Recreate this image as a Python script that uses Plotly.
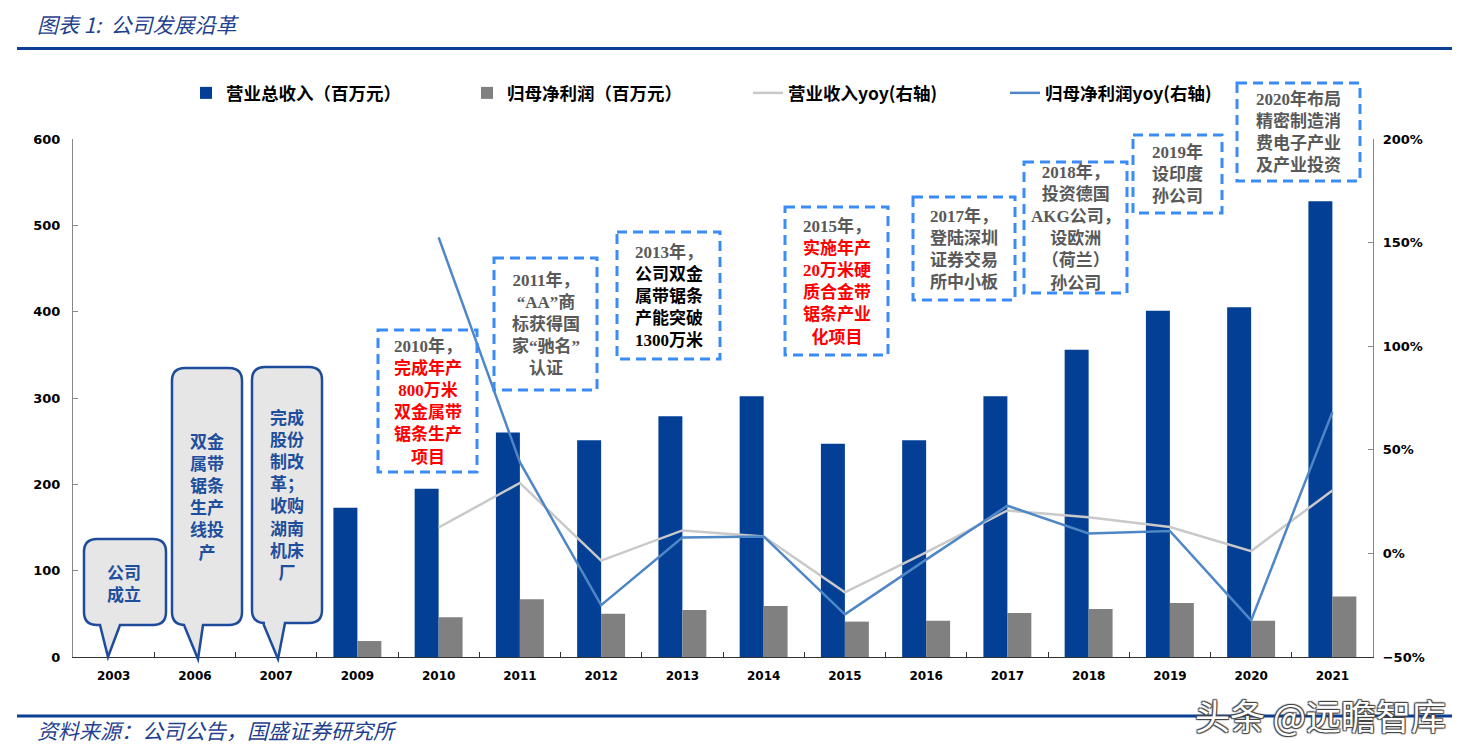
import plotly.graph_objects as go

# ---------------- data ----------------
years = ["2003", "2006", "2007", "2009", "2010", "2011", "2012", "2013",
         "2014", "2015", "2016", "2017", "2018", "2019", "2020", "2021"]
revenue = [None, None, None, 173, 195, 260, 251, 279, 302, 247, 251, 302, 356, 401, 405, 528]
net_profit = [None, None, None, 18.5, 46, 67, 50, 54.5, 59, 41, 42, 51, 55.6, 62.6, 42, 70]
revenue_yoy = [None, None, None, None, 0.125, 0.34, -0.035, 0.111, 0.082, -0.188, 0.005,
               0.207, 0.175, 0.127, 0.011, 0.304]
net_profit_yoy = [None, None, None, None, 1.525, 0.44, -0.25, 0.077, 0.082, -0.294, -0.03,
                  0.23, 0.096, 0.108, -0.323, 0.682]

series_names = ["营业总收入（百万元）", "归母净利润（百万元）", "营业收入yoy(右轴)", "归母净利润yoy(右轴)"]
left_ticks = [0, 100, 200, 300, 400, 500, 600]
right_ticks = [-0.5, 0, 0.5, 1.0, 1.5, 2.0]

# ---------------- layout helpers ----------------
# the page body has an 8px margin, so page pixel = figure pixel + 8
OFF = 8
W, H = 1476 - 2 * OFF, 752 - 2 * OFF
L, R, T, B = 73, 1373, 139, 657   # plot area in page pixels


def px(x):
    return (x - L) / (R - L)


def py(y):
    return (B - y) / (B - T)


fig = go.Figure()
fig.add_trace(go.Bar(x=years, y=revenue, name=series_names[0], marker_color="#023F95",
                     marker_line_width=0))
fig.add_trace(go.Bar(x=years, y=net_profit, name=series_names[1], marker_color="#808080",
                     marker_line_width=0))
fig.add_trace(go.Scatter(x=years, y=revenue_yoy, name=series_names[2], mode="lines",
                         line=dict(color="#C9C9C9", width=2.5), yaxis="y2"))
fig.add_trace(go.Scatter(x=years, y=net_profit_yoy, name=series_names[3], mode="lines",
                         line=dict(color="#4F86C6", width=2.5), yaxis="y2", legend="legend2"))

shapes = []
annotations = []

# title rules
for yy in (48.5, 716):
    shapes.append(dict(type="line", xref="paper", yref="paper", x0=px(17), x1=px(1452),
                       y0=py(yy), y1=py(yy), line=dict(color="#0B3F94", width=3)))

annotations.append(dict(xref="paper", yref="paper", x=px(35), y=py(24), xanchor="left",
                        yanchor="middle", showarrow=False,
                        text="<i>图表 1:  公司发展沿革</i>",
                        font=dict(family="Noto Sans CJK SC", size=21, color="#1F3F8F")))
annotations.append(dict(xref="paper", yref="paper", x=px(35), y=py(730), xanchor="left",
                        yanchor="middle", showarrow=False,
                        text="<i>资料来源：公司公告，国盛证券研究所</i>",
                        font=dict(family="Noto Sans CJK SC", size=21, color="#1F3F8F")))


# callout bubbles
def callout_path(x0, y0, x1, y1, r, tb0, tb1, ax, ay):
    pts = []

    def P(cmd, *xy):
        s = cmd
        for i in range(0, len(xy), 2):
            s += " %.5f,%.5f" % (px(xy[i]), py(xy[i + 1]))
        pts.append(s)
    P("M", x0 + r, y0)
    P("L", x1 - r, y0)
    P("Q", x1, y0, x1, y0 + r)
    P("L", x1, y1 - r)
    P("Q", x1, y1, x1 - r, y1)
    P("L", tb1, y1)
    P("L", ax, ay)
    P("L", tb0, y1)
    P("L", x0 + r, y1)
    P("Q", x0, y1, x0, y1 - r)
    P("L", x0, y0 + r)
    P("Q", x0, y0, x0 + r, y0)
    return " ".join(pts) + " Z"


callouts = [
    ((84, 539, 166, 625, 13, 100, 120, 108, 657), (124, 582), "公司<br>成立"),
    ((172, 368, 242, 625, 13, 184, 203, 198, 659), (207, 496), "双金<br>属带<br>锯条<br>生产<br>线投<br>产"),
    ((252, 367, 322, 623, 13, 263, 285, 278, 659), (287, 494), "完成<br>股份<br>制改<br>革；<br>收购<br>湖南<br>机床<br>厂"),
]
for geo, (tx, ty), txt in callouts:
    shapes.append(dict(type="path", xref="paper", yref="paper", path=callout_path(*geo),
                       fillcolor="#E6E6E6", line=dict(color="#1E4C9A", width=2.5), layer="above"))
    annotations.append(dict(xref="paper", yref="paper", x=px(tx), y=py(ty), showarrow=False,
                            xanchor="center", yanchor="middle", align="center",
                            text="<b>" + txt + "</b>",
                            font=dict(family="Noto Sans CJK SC", size=17, color="#1F4E9C")))

# dashed boxes
GRAY = "#595959"
RED = "#FF0000"


def sp(t, c):
    return "<span style='color:%s'>%s</span>" % (c, t)


boxes = [
    ((378, 330, 477, 472), sp("2010年，", GRAY) + "<br>" + sp("完成年产<br>800万米<br>双金属带<br>锯条生产<br>项目", RED)),
    ((494, 258, 597, 390), sp("2011年，<br>“AA”商<br>标获得国<br>家“驰名”<br>认证", GRAY)),
    ((617, 232, 720, 359), sp("2013年，", GRAY) + "<br>" + sp("公司双金<br>属带锯条<br>产能突破<br>1300万米", "#000000")),
    ((785, 207, 888, 355), sp("2015年，", GRAY) + "<br>" + sp("实施年产<br>20万米硬<br>质合金带<br>锯条产业<br>化项目", RED)),
    ((913, 197, 1015, 300), sp("2017年，<br>登陆深圳<br>证券交易<br>所中小板", GRAY)),
    ((1024, 162, 1127, 293), sp("2018年，<br>投资德国<br>AKG公司，<br>设欧洲<br>（荷兰）<br>孙公司", GRAY)),
    ((1133, 135, 1222, 213), sp("2019年<br>设印度<br>孙公司", GRAY)),
    ((1237, 83, 1360, 181), sp("2020年布局<br>精密制造消<br>费电子产业<br>及产业投资", GRAY)),
]
for (x0, y0, x1, y1), txt in boxes:
    shapes.append(dict(type="rect", xref="paper", yref="paper", x0=px(x0), x1=px(x1),
                       y0=py(y0), y1=py(y1), line=dict(color="#3A8BF5", width=3, dash="10px,6px"),
                       fillcolor="rgba(0,0,0,0)", layer="above"))
    annotations.append(dict(xref="paper", yref="paper", x=px((x0 + x1) / 2), y=py((y0 + y1) / 2),
                            showarrow=False, xanchor="center", yanchor="middle", align="center",
                            text="<b>" + txt + "</b>",
                            font=dict(family="Liberation Serif, Noto Sans CJK SC", size=17)))

# watermark
annotations.append(dict(xref="paper", yref="paper", x=px(1320), y=py(714), showarrow=False,
                        xanchor="center", yanchor="middle", text="头条 @远瞻智库",
                        font=dict(family="Noto Sans CJK SC", size=35, color="#FFFFFF",
                                  shadow="1px 1px 1px #444, -1px -1px 1px #444, 1px -1px 1px #444, -1px 1px 1px #444")))

legend_font = dict(family="Noto Sans CJK SC", size=17.5, color="#000000", weight="bold")

fig.update_layout(
    width=W, height=H,
    margin=dict(l=L - OFF, r=W - (R - OFF), t=T - OFF, b=H - (B - OFF), autoexpand=False),
    paper_bgcolor="white", plot_bgcolor="white",
    barmode="group", bargap=0.41, bargroupgap=0,
    showlegend=True,
    legend=dict(orientation="h", x=px(186), y=py(93), xanchor="left", yanchor="middle",
                entrywidth=236, entrywidthmode="pixels", traceorder="normal",
                font=legend_font, bgcolor="rgba(0,0,0,0)"),
    legend2=dict(orientation="h", x=px(1005), y=py(93), xanchor="left", yanchor="middle",
                 font=legend_font, bgcolor="rgba(0,0,0,0)"),
    xaxis=dict(type="category", categoryorder="array", categoryarray=years,
               showline=True, linecolor="#333333", linewidth=1.2,
               ticks="inside", tickson="boundaries", ticklen=5, tickcolor="#333333",
               ticklabelstandoff=7,
               tickfont=dict(family="DejaVu Sans", size=12, color="#000000", weight="bold"),
               showgrid=False, zeroline=False, fixedrange=True),
    yaxis=dict(range=[0, 600], tickvals=left_ticks, showline=True, linecolor="#888888",
               linewidth=1.2, ticks="inside", ticklen=5, tickcolor="#888888",
               ticklabelstandoff=9,
               tickfont=dict(family="DejaVu Sans", size=13, color="#000000", weight="bold"),
               showgrid=False, zeroline=False),
    yaxis2=dict(range=[-0.5, 2.0], tickvals=right_ticks, tickformat=".0%", overlaying="y",
                side="right", showline=True, linecolor="#888888", linewidth=1.2,
                ticks="inside", ticklen=5, tickcolor="#888888",
                ticklabelstandoff=6,
                tickfont=dict(family="DejaVu Sans", size=13, color="#000000", weight="bold"),
                showgrid=False, zeroline=False),
    shapes=shapes,
    annotations=annotations,
)

fig.write_html("out.html")
